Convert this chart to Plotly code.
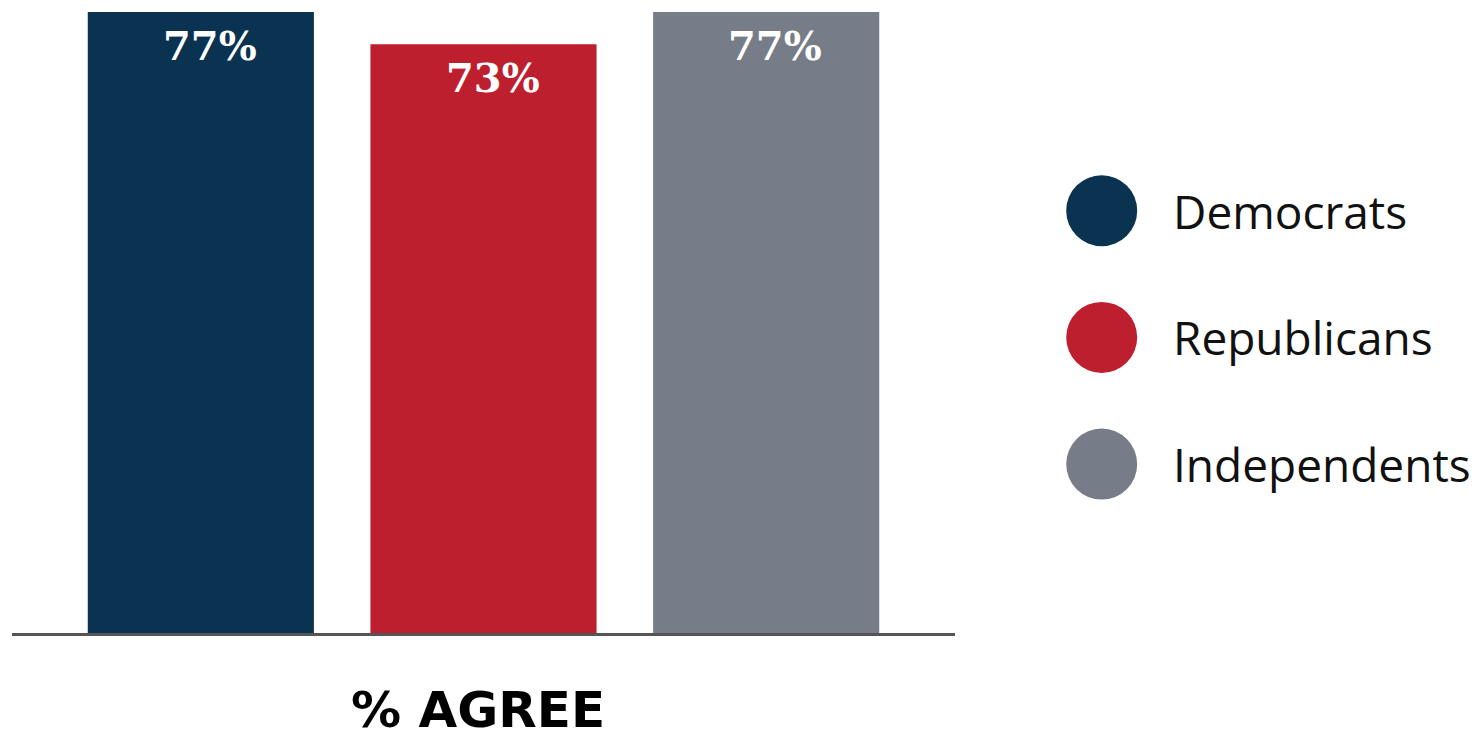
import plotly.graph_objects as go

parties = ["Democrats", "Republicans", "Independents"]
values = [77, 73, 77]
labels = ["77%", "73%", "77%"]
colors = ["#0A3351", "#BE1F2F", "#777D88"]
axis_title = "% AGREE"

OFF = 8  # default body margin of the page
W, H = 1479 - OFF, 733 - OFF
L, R, T, B = 12 - OFF, 1479 - 955, 12 - OFF, 733 - 633
pw = W - L - R
ph = H - T - B

def px_x(px):
    return (px - OFF - L) / pw

def px_y(py):
    return (H - B - (py - OFF)) / ph

xs = list(range(len(parties)))

fig = go.Figure()
fig.add_trace(go.Bar(
    x=xs, y=values, width=0.8,
    marker=dict(color=colors, line=dict(width=0)),
    showlegend=False, hoverinfo="skip",
))

for xv, yv, lab in zip(xs, values, labels):
    fig.add_annotation(
        x=xv, y=yv, xref="x", yref="y", text=lab, showarrow=False,
        yanchor="top", xanchor="center", xshift=9, yshift=-8,
        font=dict(family="DejaVu Serif", size=40, color="white", weight="bold"),
    )

# custom legend
for i, (name, col) in enumerate(zip(parties, colors)):
    cy = 210.7 + i * 126.7
    cx = 1101.7
    fig.add_shape(
        type="circle", xref="paper", yref="paper",
        xsizemode="pixel", ysizemode="pixel",
        xanchor=px_x(cx), yanchor=px_y(cy),
        x0=-35.5, x1=35.5, y0=-35.5, y1=35.5,
        fillcolor=col, line=dict(width=0), layer="above",
    )
    fig.add_annotation(
        x=px_x(1171), y=px_y(cy), xref="paper", yref="paper",
        text=name, showarrow=False, xanchor="left", yanchor="middle",
        font=dict(family="Open Sans", size=46, color="#111111"),
    )

fig.add_annotation(
    x=px_x(478), y=px_y(710), xref="paper", yref="paper",
    text="<b>" + axis_title + "</b>", showarrow=False,
    xanchor="center", yanchor="middle",
    font=dict(family="DejaVu Sans", size=50, color="black"),
)

fig.update_layout(
    width=W, height=H,
    margin=dict(l=L, r=R, t=T, b=B, pad=0),
    plot_bgcolor="white", paper_bgcolor="white",
    xaxis=dict(range=[-0.668, 2.668], showticklabels=False, ticks="",
               showgrid=False, zeroline=False, showline=True,
               linecolor="#555555", linewidth=3, fixedrange=True),
    yaxis=dict(range=[0, 77], visible=False, showgrid=False, zeroline=False),
    showlegend=False,
)

fig.write_html("out.html")
